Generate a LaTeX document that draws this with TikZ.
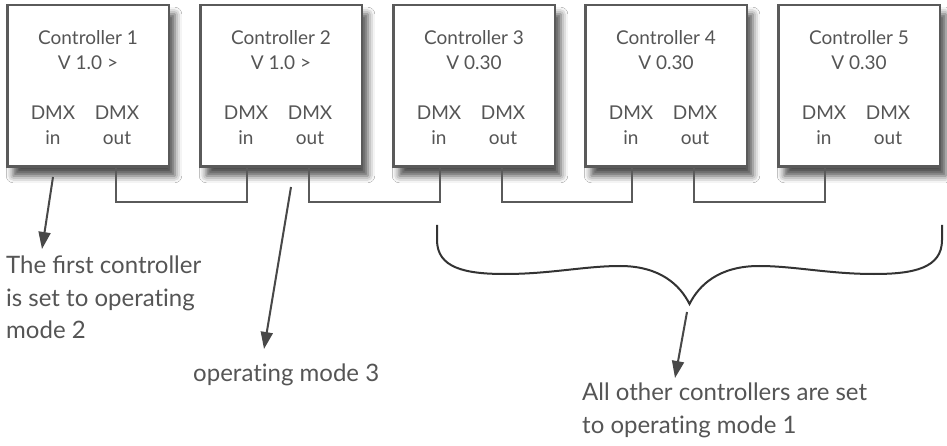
\documentclass[tikz,border=0pt]{standalone}
\usepackage{fontspec}
\setmainfont{Lato}
\usetikzlibrary{arrows.meta,shadows.blur}
\definecolor{boxgray}{HTML}{5A5A5A}
\definecolor{txtgray}{HTML}{555555}
\definecolor{brgray}{HTML}{333333}
\definecolor{argray}{HTML}{484848}
\newcommand{\nolig}{\kern0pt }
\tikzset{
  ctrl/.style={draw=boxgray, line width=2.5pt, fill=white, minimum width=161.5pt, minimum height=161.5pt, inner sep=0pt,
    blur shadow={shadow xshift=6pt, shadow yshift=-9pt, shadow blur radius=7pt, shadow opacity=70}},
  boxtxt/.style={text=txtgray, font=\fontsize{19}{24}\selectfont, inner sep=0pt, anchor=base},
  conn/.style={draw=boxgray, line width=2pt},
  pointer/.style={draw=argray, line width=2pt, -{Triangle[length=17pt,width=12pt]}},
  brace/.style={draw=brgray, line width=2pt},
  note/.style={text=txtgray, font=\fontsize{24}{32.5}\selectfont, inner sep=0pt, align=left, anchor=north west},
}
\begin{document}
\begin{tikzpicture}[x=1pt,y=-1pt]
\useasboundingbox (0,0) rectangle (947,446);
\fill[white] (0,0) rectangle (947,446);
\foreach \i/\x/\v in {1/6/V 1.0 >, 2/199/V 1.0 >, 3/392/V 0.30, 4/584/V 0.30, 5/777/V 0.30}{
  \node[ctrl] (c\i) at (\x+82,86) {};
  \node[boxtxt] (t\i) at (\x+82,45) {Controller \i};
  \node[boxtxt] (v\i) at (\x+82,70) {\v};
  \node[boxtxt] (dmi\i) at (\x+47,120) {DMX};
  \node[boxtxt] (in\i) at (\x+47,145) {in};
  \node[boxtxt] (dmo\i) at (\x+111,120) {DMX};
  \node[boxtxt] (out\i) at (\x+111,145) {out};
  \coordinate (i\i) at (\x+48,166.75);
  \coordinate (o\i) at (\x+110,166.75);
}
\draw[conn] (o1) -- ++(0,35) -| (i2);
\draw[conn] (o2) -- ++(0,35) -| (i3);
\draw[conn] (o3) -- ++(0,35) -| (i4);
\draw[conn] (o4) -- ++(0,35) -| (i5);
% brace
\draw[brace] (437,225) -- (437,240) .. controls (437,268) and (465,274) .. (505,274)
  .. controls (550,274) and (585,266) .. (620,266)
  .. controls (660,266) and (680,285) .. (689.5,304)
  .. controls (699,285) and (719,266) .. (759,266)
  .. controls (794,266) and (829,274) .. (874,274)
  .. controls (914,274) and (942,268) .. (942,240) -- (942,225);
% notes
\node[note] (n1) at (6,256) {The first controller\\is set to operat\nolig ing\\mode 2};
\node[note] (n2) at (193,364) {operat\nolig ing mode 3};
\node[note] (n3) at (582,383) {All other controllers are set\\to operat\nolig ing mode 1};
% pointers
\coordinate (a1s) at (53,177);
\coordinate (a1e) at (42,249);
\coordinate (a2s) at (291,187);
\coordinate (a2e) at (264,349);
\coordinate (a3s) at (687,312);
\coordinate (a3e) at (675,378);
\draw[pointer] (a1s) -- (a1e);
\draw[pointer] (a2s) -- (a2e);
\draw[pointer] (a3s) -- (a3e);
\end{tikzpicture}
\end{document}
